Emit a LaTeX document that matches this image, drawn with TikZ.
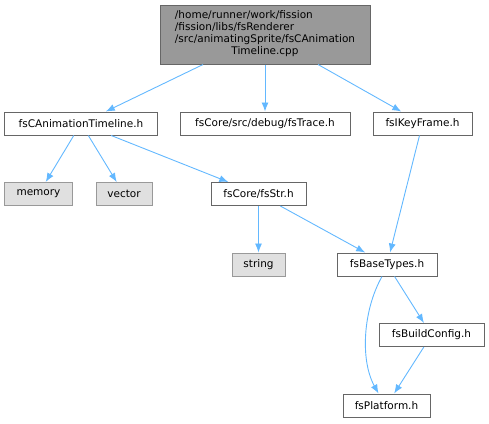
\documentclass[tikz,border=0pt]{standalone}
\usepackage{fontspec}
\setmainfont{DejaVu Sans}
\usetikzlibrary{arrows.meta}
\definecolor{edgeblue}{HTML}{63B8FF}
\definecolor{boxline}{HTML}{666666}
\definecolor{extline}{HTML}{999999}
\definecolor{extfill}{HTML}{E0E0E0}
\definecolor{rootfill}{HTML}{999999}
\begin{document}
\begin{tikzpicture}[x=1bp,y=-1bp,>={Latex[length=9bp,width=7bp]},
        every node/.style={font=\fontsize{10.5bp}{12bp}\selectfont,inner sep=0pt,minimum height=23bp},
        file/.style={draw=boxline,fill=white,line width=1bp},
        extfile/.style={draw=extline,fill=extfill,line width=1bp},
        rootfile/.style={draw=boxline,fill=rootfill,line width=1bp},
        dep/.style={->,draw=edgeblue,line width=.9bp}]
        \useasboundingbox(0,0)rectangle(489,423);
        \node[rootfile,minimum width=210bp,minimum height=59bp](root)at(265,34.5){\begin{tabular}{@{}l@{}}/home/runner/work/fission\\/fission/libs/fsRenderer\\/src/animatingSprite/fsCAnimation\\\multicolumn{1}{@{}c@{}}{Timeline.cpp}\end{tabular}};
        \node[file,minimum width=152bp](timeline)at(81,123.5){fsCAnimationTimeline.h};
        \node[file,minimum width=170bp](trace)at(265,123.5){fsCore/src/debug/fsTrace.h};
        \node[file,minimum width=99bp](keyframe)at(422.5,123.5){fsIKeyFrame.h};
        \node[extfile,minimum width=67bp](memory)at(38.5,194){memory};
        \node[extfile,minimum width=56bp](vector)at(124,194){vector};
        \node[file,minimum width=95bp](str)at(258.5,194){fsCore/fsStr.h};
        \node[extfile,minimum width=53bp](string)at(258.5,264.5){string};
        \node[file,minimum width=100bp](basetypes)at(387,264.5){fsBaseTypes.h};
        \node[file,minimum width=105bp](buildconfig)at(431.5,335){fsBuildConfig.h};
        \node[file,minimum width=87bp](platform)at(386.5,405.5){fsPlatform.h};
        \draw[dep](root)--(timeline);
        \draw[dep](root)--(trace);
        \draw[dep](root)--(keyframe);
        \draw[dep](timeline)--(memory);
        \draw[dep](timeline)--(vector);
        \draw[dep](timeline)--(str);
        \draw[dep](keyframe)--(basetypes);
        \draw[dep](str)--(string);
        \draw[dep](str)--(basetypes);
        \draw[dep](basetypes)--(buildconfig);
        \draw[dep](buildconfig)--(platform);
        \draw[dep]([xshift=-5bp]basetypes.south)..controls(363,310)and(360,360)..([xshift=-8bp]platform.north);
    \end{tikzpicture}
\end{document}
